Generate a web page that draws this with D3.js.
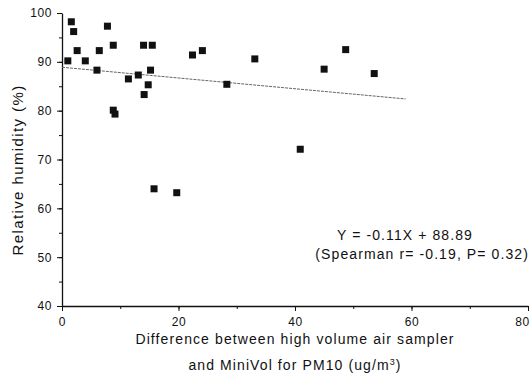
<!DOCTYPE html>
<html>
<head>
<meta charset="utf-8">
<script src="https://cdn.jsdelivr.net/npm/d3@7"></script>
<style>
  body { margin: 0; background: #fff; }
  text { font-family: "Liberation Sans", Arial, sans-serif; fill: #111; }
</style>
</head>
<body>
<div class="chart"></div>
<script>
// Data
var diffValues = [1, 1.6, 2, 2.6, 4, 6.4, 6, 7.8, 8.8, 8.8, 9.1, 11.4, 13.1, 14, 14.1, 14.8, 15.2, 15.5, 15.8, 19.7, 22.4, 24.1, 28.3, 33.1, 45, 48.7, 53.6, 40.9];
var humidityValues = [90.2, 98.2, 96.2, 92.3, 90.2, 92.3, 88.3, 97.3, 93.4, 80.1, 79.3, 86.5, 87.3, 93.4, 83.3, 85.3, 88.3, 93.4, 64, 63.2, 91.4, 92.3, 85.4, 90.6, 88.5, 92.5, 87.6, 72.1];
var xTicks = [0, 20, 40, 60, 80];
var yTicks = [40, 50, 60, 70, 80, 90, 100];
var fitSlope = -0.11;
var fitIntercept = 88.89;
var fitRange = [0, 59];

var svgWidth = 532;
var svgHeight = 376;
var margin = { top: 13, right: 4, bottom: 70, left: 62 };
var width = svgWidth - margin.left - margin.right;
var height = svgHeight - margin.top - margin.bottom;

var svg = d3.select(".chart")
  .append("svg")
  .attr("width", svgWidth)
  .attr("height", svgHeight);

var chart = svg.append("g")
  .attr("transform", "translate(" + margin.left + "," + margin.top + ")");

var xScale = d3.scaleLinear().domain([0, 80]).range([0, 466]);
var yScale = d3.scaleLinear().domain([40, 100]).range([height, 0]);

// minor ticks
chart.append("g")
  .attr("transform", "translate(0," + height + ")")
  .call(d3.axisBottom(xScale).tickValues(d3.range(0, 81, 10)).tickSize(3).tickFormat(""))
  .call(function(g) { g.select(".domain").remove(); });
chart.append("g")
  .call(d3.axisLeft(yScale).tickValues(d3.range(40, 101, 5)).tickSize(3).tickFormat(""))
  .call(function(g) { g.select(".domain").remove(); });

// major axes
var xAxis = chart.append("g")
  .attr("transform", "translate(0," + height + ")")
  .call(d3.axisBottom(xScale).tickValues(xTicks).tickSize(5).tickSizeOuter(0).tickPadding(6));
var yAxis = chart.append("g")
  .call(d3.axisLeft(yScale).tickValues(yTicks).tickSize(5).tickSizeOuter(0).tickPadding(5));

chart.selectAll(".tick text")
  .style("font-size", "12px")
  .style("letter-spacing", "0.6px")
  .style("font-family", "Liberation Sans, Arial, sans-serif");
// last x label sits at the right edge, nudge it in
xAxis.selectAll(".tick text").filter(function(d) { return d === 80; }).attr("dx", -6);
chart.selectAll(".domain").attr("stroke", "#111").attr("stroke-width", 1.3);
chart.selectAll(".tick line").attr("stroke", "#111");

// regression line
var fitLine = d3.line()
  .x(function(d) { return xScale(d); })
  .y(function(d) { return yScale(fitSlope * d + fitIntercept); });
chart.append("path")
  .datum(fitRange)
  .attr("d", fitLine)
  .attr("fill", "none")
  .attr("stroke", "#666")
  .attr("stroke-width", 1)
  .attr("stroke-dasharray", "3,1");

// points
var pts = d3.range(diffValues.length);
chart.selectAll("rect.pt")
  .data(pts)
  .enter()
  .append("rect")
  .attr("class", "pt")
  .attr("x", function(i) { return xScale(diffValues[i]) - 3.5; })
  .attr("y", function(i) { return yScale(humidityValues[i]) - 3.5; })
  .attr("width", 7)
  .attr("height", 7)
  .attr("fill", "#111");

// annotation
svg.append("text")
  .attr("x", 405)
  .attr("y", 240)
  .attr("text-anchor", "middle")
  .style("font-size", "14px")
  .style("letter-spacing", "1.1px")
  .text("Y = -0.11X + 88.89");
svg.append("text")
  .attr("x", 529)
  .attr("y", 259)
  .attr("text-anchor", "end")
  .style("font-size", "14px")
  .style("letter-spacing", "1.1px")
  .text("(Spearman r= -0.19, P= 0.32)");

// axis titles
svg.append("text")
  .attr("x", 295)
  .attr("y", 344)
  .attr("text-anchor", "middle")
  .style("font-size", "14px")
  .style("letter-spacing", "1.1px")
  .text("Difference between high volume air sampler");
var t2 = svg.append("text")
  .attr("x", 295)
  .attr("y", 370)
  .attr("text-anchor", "middle")
  .style("font-size", "14px")
  .style("letter-spacing", "1.1px");
t2.append("tspan").text("and MiniVol for PM10 (ug/m");
t2.append("tspan").attr("dy", -5).style("font-size", "9px").text("3");
t2.append("tspan").attr("dy", 5).text(")");

svg.append("text")
  .attr("transform", "rotate(-90)")
  .attr("x", -170)
  .attr("y", 23)
  .attr("text-anchor", "middle")
  .style("font-size", "15px")
  .style("letter-spacing", "1.4px")
  .text("Relative humidity (%)");
</script>
</body>
</html>
